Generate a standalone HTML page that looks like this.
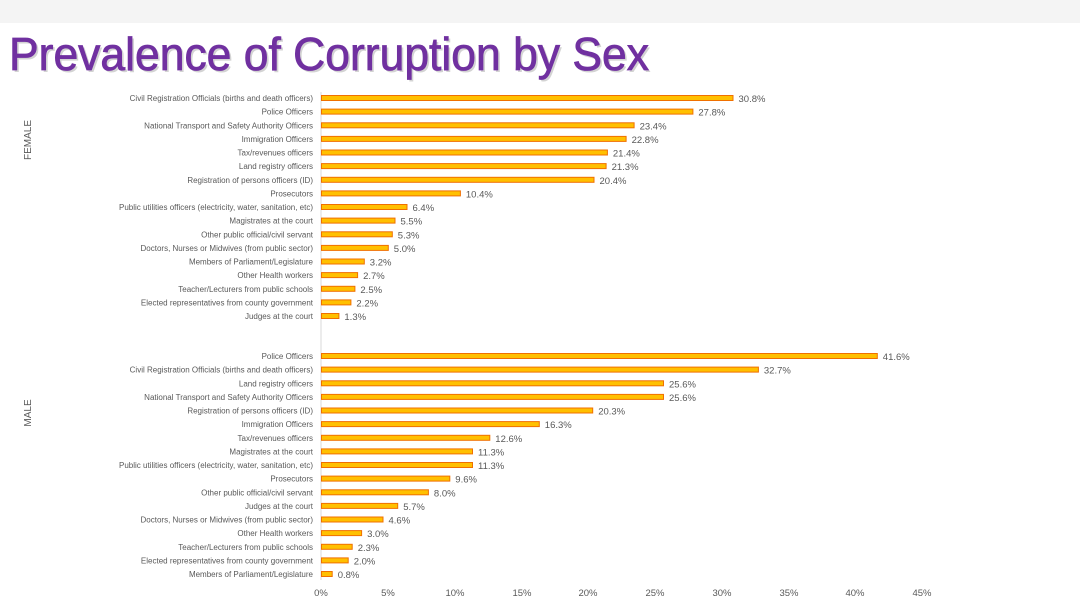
<!DOCTYPE html>
<html><head><meta charset="utf-8"><style>
html,body{margin:0;padding:0;background:#fff;}
svg{display:block;font-family:"Liberation Sans",sans-serif;}
.l{font-size:8px;fill:#595959;text-anchor:end;}
.v{font-size:9.5px;fill:#595959;}
.b{fill:#ffc000;stroke:#f07000;stroke-width:1;}
</style></head><body>
<svg width="1080" height="612" viewBox="0 0 1080 612" xmlns="http://www.w3.org/2000/svg">
<rect x="0" y="0" width="1080" height="23" fill="#f4f4f4"/>
<text x="11" y="72" font-size="46" fill="#555" opacity="0.25" textLength="640" lengthAdjust="spacingAndGlyphs">Prevalence of Corruption by Sex</text>
<text x="9" y="70" font-size="46" fill="#7030a0" stroke="#7030a0" stroke-width="0.8" textLength="640" lengthAdjust="spacingAndGlyphs">Prevalence of Corruption by Sex</text>
<line x1="321" y1="92" x2="321" y2="580" stroke="#d9d9d9" stroke-width="1"/>
<text transform="translate(31,140) rotate(-90)" font-size="10" fill="#595959" text-anchor="middle">FEMALE</text>
<text transform="translate(31,413) rotate(-90)" font-size="10" fill="#595959" text-anchor="middle">MALE</text>

<g transform="translate(0,98)"><text class="l" x="313" y="3">Civil Registration Officials (births and death officers)</text><rect class="b" x="321.5" y="-2.5" width="411.5" height="5"/><text class="v" x="738.5" y="4">30.8%</text></g>
<g transform="translate(0,111.6)"><text class="l" x="313" y="3">Police Officers</text><rect class="b" x="321.5" y="-2.5" width="371.4" height="5"/><text class="v" x="698.4" y="4">27.8%</text></g>
<g transform="translate(0,125.3)"><text class="l" x="313" y="3">National Transport and Safety Authority Officers</text><rect class="b" x="321.5" y="-2.5" width="312.6" height="5"/><text class="v" x="639.6" y="4">23.4%</text></g>
<g transform="translate(0,138.9)"><text class="l" x="313" y="3">Immigration Officers</text><rect class="b" x="321.5" y="-2.5" width="304.6" height="5"/><text class="v" x="631.6" y="4">22.8%</text></g>
<g transform="translate(0,152.5)"><text class="l" x="313" y="3">Tax/revenues officers</text><rect class="b" x="321.5" y="-2.5" width="285.9" height="5"/><text class="v" x="612.9" y="4">21.4%</text></g>
<g transform="translate(0,166.1)"><text class="l" x="313" y="3">Land registry officers</text><rect class="b" x="321.5" y="-2.5" width="284.6" height="5"/><text class="v" x="611.6" y="4">21.3%</text></g>
<g transform="translate(0,179.8)"><text class="l" x="313" y="3">Registration of persons officers (ID)</text><rect class="b" x="321.5" y="-2.5" width="272.5" height="5"/><text class="v" x="599.5" y="4">20.4%</text></g>
<g transform="translate(0,193.4)"><text class="l" x="313" y="3">Prosecutors</text><rect class="b" x="321.5" y="-2.5" width="138.9" height="5"/><text class="v" x="465.9" y="4">10.4%</text></g>
<g transform="translate(0,207)"><text class="l" x="313" y="3">Public utilities officers (electricity, water, sanitation, etc)</text><rect class="b" x="321.5" y="-2.5" width="85.5" height="5"/><text class="v" x="412.5" y="4">6.4%</text></g>
<g transform="translate(0,220.6)"><text class="l" x="313" y="3">Magistrates at the court</text><rect class="b" x="321.5" y="-2.5" width="73.5" height="5"/><text class="v" x="400.5" y="4">5.5%</text></g>
<g transform="translate(0,234.3)"><text class="l" x="313" y="3">Other public official/civil servant</text><rect class="b" x="321.5" y="-2.5" width="70.8" height="5"/><text class="v" x="397.8" y="4">5.3%</text></g>
<g transform="translate(0,247.9)"><text class="l" x="313" y="3">Doctors, Nurses or Midwives (from public sector)</text><rect class="b" x="321.5" y="-2.5" width="66.8" height="5"/><text class="v" x="393.8" y="4">5.0%</text></g>
<g transform="translate(0,261.5)"><text class="l" x="313" y="3">Members of Parliament/Legislature</text><rect class="b" x="321.5" y="-2.5" width="42.8" height="5"/><text class="v" x="369.8" y="4">3.2%</text></g>
<g transform="translate(0,275.1)"><text class="l" x="313" y="3">Other Health workers</text><rect class="b" x="321.5" y="-2.5" width="36.1" height="5"/><text class="v" x="363.1" y="4">2.7%</text></g>
<g transform="translate(0,288.8)"><text class="l" x="313" y="3">Teacher/Lecturers from public schools</text><rect class="b" x="321.5" y="-2.5" width="33.4" height="5"/><text class="v" x="360.4" y="4">2.5%</text></g>
<g transform="translate(0,302.4)"><text class="l" x="313" y="3">Elected representatives from county government</text><rect class="b" x="321.5" y="-2.5" width="29.4" height="5"/><text class="v" x="356.4" y="4">2.2%</text></g>
<g transform="translate(0,316)"><text class="l" x="313" y="3">Judges at the court</text><rect class="b" x="321.5" y="-2.5" width="17.4" height="5"/><text class="v" x="344.4" y="4">1.3%</text></g>

<g transform="translate(0,356)"><text class="l" x="313" y="3">Police Officers</text><rect class="b" x="321.5" y="-2.5" width="555.8" height="5"/><text class="v" x="882.8" y="4">41.6%</text></g>
<g transform="translate(0,369.6)"><text class="l" x="313" y="3">Civil Registration Officials (births and death officers)</text><rect class="b" x="321.5" y="-2.5" width="436.9" height="5"/><text class="v" x="763.9" y="4">32.7%</text></g>
<g transform="translate(0,383.3)"><text class="l" x="313" y="3">Land registry officers</text><rect class="b" x="321.5" y="-2.5" width="342" height="5"/><text class="v" x="669" y="4">25.6%</text></g>
<g transform="translate(0,396.9)"><text class="l" x="313" y="3">National Transport and Safety Authority Officers</text><rect class="b" x="321.5" y="-2.5" width="342" height="5"/><text class="v" x="669" y="4">25.6%</text></g>
<g transform="translate(0,410.5)"><text class="l" x="313" y="3">Registration of persons officers (ID)</text><rect class="b" x="321.5" y="-2.5" width="271.2" height="5"/><text class="v" x="598.2" y="4">20.3%</text></g>
<g transform="translate(0,424.1)"><text class="l" x="313" y="3">Immigration Officers</text><rect class="b" x="321.5" y="-2.5" width="217.8" height="5"/><text class="v" x="544.8" y="4">16.3%</text></g>
<g transform="translate(0,437.8)"><text class="l" x="313" y="3">Tax/revenues officers</text><rect class="b" x="321.5" y="-2.5" width="168.3" height="5"/><text class="v" x="495.3" y="4">12.6%</text></g>
<g transform="translate(0,451.4)"><text class="l" x="313" y="3">Magistrates at the court</text><rect class="b" x="321.5" y="-2.5" width="151" height="5"/><text class="v" x="478" y="4">11.3%</text></g>
<g transform="translate(0,465)"><text class="l" x="313" y="3">Public utilities officers (electricity, water, sanitation, etc)</text><rect class="b" x="321.5" y="-2.5" width="151" height="5"/><text class="v" x="478" y="4">11.3%</text></g>
<g transform="translate(0,478.6)"><text class="l" x="313" y="3">Prosecutors</text><rect class="b" x="321.5" y="-2.5" width="128.3" height="5"/><text class="v" x="455.3" y="4">9.6%</text></g>
<g transform="translate(0,492.3)"><text class="l" x="313" y="3">Other public official/civil servant</text><rect class="b" x="321.5" y="-2.5" width="106.9" height="5"/><text class="v" x="433.9" y="4">8.0%</text></g>
<g transform="translate(0,505.9)"><text class="l" x="313" y="3">Judges at the court</text><rect class="b" x="321.5" y="-2.5" width="76.2" height="5"/><text class="v" x="403.2" y="4">5.7%</text></g>
<g transform="translate(0,519.5)"><text class="l" x="313" y="3">Doctors, Nurses or Midwives (from public sector)</text><rect class="b" x="321.5" y="-2.5" width="61.5" height="5"/><text class="v" x="388.5" y="4">4.6%</text></g>
<g transform="translate(0,533.1)"><text class="l" x="313" y="3">Other Health workers</text><rect class="b" x="321.5" y="-2.5" width="40.1" height="5"/><text class="v" x="367.1" y="4">3.0%</text></g>
<g transform="translate(0,546.8)"><text class="l" x="313" y="3">Teacher/Lecturers from public schools</text><rect class="b" x="321.5" y="-2.5" width="30.7" height="5"/><text class="v" x="357.7" y="4">2.3%</text></g>
<g transform="translate(0,560.4)"><text class="l" x="313" y="3">Elected representatives from county government</text><rect class="b" x="321.5" y="-2.5" width="26.7" height="5"/><text class="v" x="353.7" y="4">2.0%</text></g>
<g transform="translate(0,574)"><text class="l" x="313" y="3">Members of Parliament/Legislature</text><rect class="b" x="321.5" y="-2.5" width="10.7" height="5"/><text class="v" x="337.7" y="4">0.8%</text></g>

<g font-size="9.5" fill="#595959" text-anchor="middle">
<text x="321" y="596">0%</text><text x="388" y="596">5%</text><text x="455" y="596">10%</text><text x="522" y="596">15%</text><text x="588" y="596">20%</text><text x="655" y="596">25%</text><text x="722" y="596">30%</text><text x="789" y="596">35%</text><text x="855" y="596">40%</text><text x="922" y="596">45%</text>
</g>
</svg>
</body></html>
